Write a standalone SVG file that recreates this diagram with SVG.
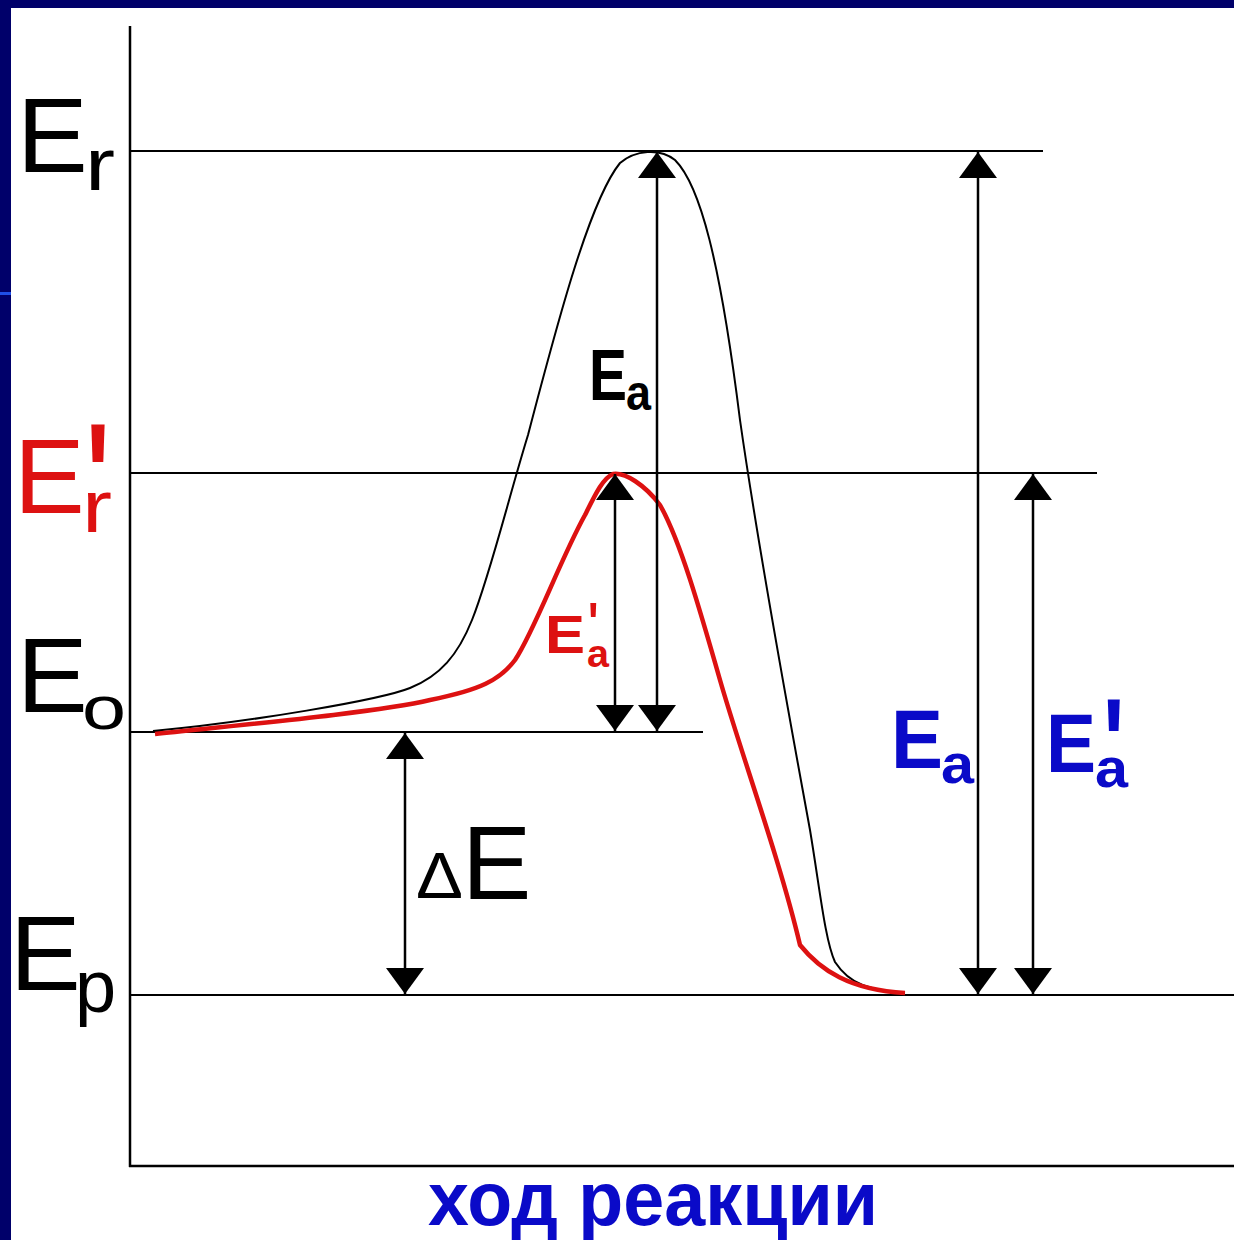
<svg xmlns="http://www.w3.org/2000/svg" width="1234" height="1240" viewBox="0 0 1234 1240">
<style>
  .t { font-family: "Liberation Sans", Arial, sans-serif; }
  .blk { fill: #000; }
  .red { fill: #dd1111; }
  .blu { fill: #0a0ac8; }
  .ln { stroke: #000; stroke-width: 2; fill: none; }
  .ax { stroke: #000; stroke-width: 2.5; fill: none; }
  .arr { stroke: #000; stroke-width: 2.5; fill: none; marker-start: url(#ah); marker-end: url(#ah); }
</style>
<defs>
  <marker id="ah" viewBox="0 0 26 38" refX="26" refY="19" markerWidth="26" markerHeight="38" markerUnits="userSpaceOnUse" orient="auto-start-reverse">
    <path d="M0,0 L26,19 L0,38 Z" fill="#000"/>
  </marker>
</defs>
<rect x="0" y="0" width="1234" height="1240" fill="#ffffff"/>
<g id="frame">
  <rect x="0" y="0" width="1234" height="8" fill="#00006a"/>
  <rect x="0" y="0" width="11" height="1240" fill="#00006a"/>
  <rect x="0" y="292" width="11" height="3" fill="#1f4fe6"/>
</g>
<g id="axes">
  <line class="ax" x1="130" y1="26" x2="130" y2="1167"/>
  <line class="ax" x1="129" y1="1166" x2="1234" y2="1166"/>
</g>
<g id="levels">
  <line class="ln" x1="130" y1="151" x2="1043" y2="151"/>
  <line class="ln" x1="130" y1="473" x2="1097" y2="473"/>
  <line class="ln" x1="130" y1="732" x2="703" y2="732"/>
  <line class="ln" x1="130" y1="995" x2="1234" y2="995"/>
</g>
<g id="curves">
  <path id="curve-uncat" class="ln" d="M 153 731 C 250 722, 380 700, 410 688 C 440 676, 458 655, 472 620 C 490 575, 508 500, 528 435 C 558 320, 590 200, 620 163 C 635 150, 660 148, 675 160 C 700 185, 720 260, 740 420 C 760 560, 790 720, 810 830 C 820 890, 825 940, 835 962 C 850 985, 870 990, 905 993"/>
  <path id="curve-cat" fill="none" stroke="#dd1111" stroke-width="4.5" stroke-linejoin="round" d="M 155 734 C 250 724, 380 712, 430 700 C 480 690, 500 680, 515 660 C 535 630, 560 560, 585 515 C 595 495, 603 478, 613 474 C 625 472, 645 485, 660 505 C 680 540, 700 610, 720 680 C 740 750, 780 860, 800 945 C 820 970, 850 990, 905 993"/>
</g>
<g id="connectors">
  <line class="arr" x1="405" y1="733" x2="405" y2="994"/>
  <line class="arr" x1="657" y1="152" x2="657" y2="731"/>
  <line class="arr" x1="615" y1="474" x2="615" y2="731"/>
  <line class="arr" x1="978" y1="152" x2="978" y2="994"/>
  <line class="arr" x1="1033" y1="474" x2="1033" y2="994"/>
</g>
<g id="label-Er">
  <text class="t blk" x="17" y="172" font-size="106">E</text>
  <text class="t blk" x="85" y="190" font-size="75" textLength="30" lengthAdjust="spacingAndGlyphs">r</text>
</g>
<g id="label-Er-prime">
  <text class="t red" x="14" y="513" font-size="106">E</text>
  <text class="t red" x="82" y="532" font-size="75" textLength="30" lengthAdjust="spacingAndGlyphs">r</text>
  <text class="t red" x="86" y="462" font-size="100" font-weight="bold" transform="translate(0,-165) scale(1,1.5)">'</text>
</g>
<g id="label-Eo">
  <text class="t blk" x="17" y="712" font-size="106">E</text>
  <text class="t blk" x="82" y="729" font-size="62" textLength="44" lengthAdjust="spacingAndGlyphs">o</text>
</g>
<g id="label-Ep">
  <text class="t blk" x="10" y="990" font-size="106">E</text>
  <text class="t blk" x="75" y="1012" font-size="74">p</text>
</g>
<g id="label-dE">
  <text class="t blk" x="416" y="898" font-size="64" textLength="47" lengthAdjust="spacingAndGlyphs">Δ</text>
  <text class="t blk" x="462" y="899" font-size="104">E</text>
</g>
<g id="label-Ea-center">
  <text class="t blk" x="589" y="400" font-size="72" font-weight="bold" textLength="38" lengthAdjust="spacingAndGlyphs">E</text>
  <text class="t blk" x="626" y="410" font-size="50" font-weight="bold" textLength="25" lengthAdjust="spacingAndGlyphs">a</text>
</g>
<g id="label-Ea-prime-center">
  <text class="t red" x="545" y="653" font-size="53" font-weight="bold" textLength="40" lengthAdjust="spacingAndGlyphs">E</text>
  <text class="t red" x="587" y="667" font-size="38" font-weight="bold" textLength="22" lengthAdjust="spacingAndGlyphs">a</text>
  <text class="t red" x="588" y="617" font-size="44" font-weight="bold" transform="translate(0,-130) scale(1,1.25)">'</text>
</g>
<g id="label-Ea-right">
  <text class="t blu" x="891" y="768" font-size="84" font-weight="bold" textLength="52" lengthAdjust="spacingAndGlyphs">E</text>
  <text class="t blu" x="941" y="783" font-size="56" font-weight="bold" textLength="33" lengthAdjust="spacingAndGlyphs">a</text>
</g>
<g id="label-Ea-prime-right">
  <text class="t blu" x="1046" y="772" font-size="84" font-weight="bold" textLength="50" lengthAdjust="spacingAndGlyphs">E</text>
  <text class="t blu" x="1095" y="787" font-size="56" font-weight="bold" textLength="33" lengthAdjust="spacingAndGlyphs">a</text>
  <text class="t blu" x="1103" y="730" font-size="90" font-weight="bold" transform="translate(0,-236) scale(1,1.4)">'</text>
</g>
<g id="label-axis">
  <text class="t blu" x="428" y="1225" font-size="76" font-weight="bold" textLength="450" lengthAdjust="spacingAndGlyphs">ход реакции</text>
</g>
</svg>
